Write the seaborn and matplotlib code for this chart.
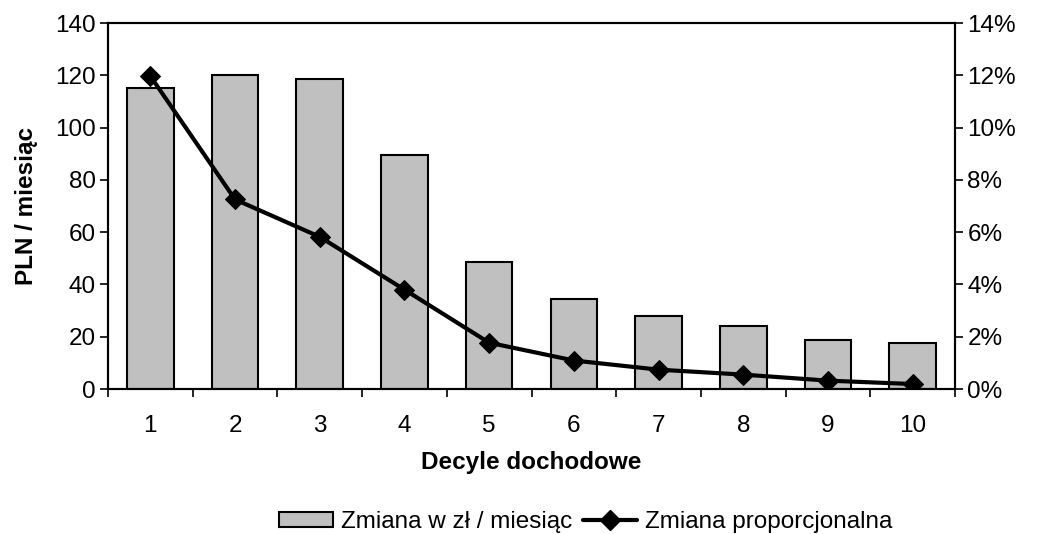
import matplotlib
matplotlib.use("Agg")
import matplotlib.pyplot as plt
import seaborn as sns
import pandas as pd
import numpy as np
from matplotlib.ticker import FuncFormatter, FixedLocator
from matplotlib.patches import Patch
from matplotlib.lines import Line2D

deciles = ["1", "2", "3", "4", "5", "6", "7", "8", "9", "10"]
zmiana_zl = [115, 120.2, 118.7, 89.5, 48.7, 34.3, 27.8, 24.1, 18.6, 17.7]
zmiana_proc = [0.1197, 0.0725, 0.0582, 0.038, 0.0177, 0.0109, 0.0074, 0.0055, 0.0032, 0.0019]

sns.set_style("white")
plt.rcParams["font.family"] = ["Liberation Sans", "DejaVu Sans"]
for k in ["text.color", "axes.labelcolor", "xtick.color", "ytick.color"]:
    plt.rcParams[k] = "black"

FS = 17.5

df = pd.DataFrame({"decyl": deciles, "zl": zmiana_zl, "proc": zmiana_proc})

fig = plt.figure(figsize=(10.52, 5.34), dpi=100)
ax = fig.add_axes([108/1052, 1 - 389/534, (955-108)/1052, (389-23)/534])

sns.barplot(data=df, x="decyl", y="zl", ax=ax, color="#c0c0c0", width=0.55,
            edgecolor="black", linewidth=1.5, saturation=1)
ax.set_ylim(0, 140)
ax.set_xlim(-0.5, 9.5)
ax.set_yticks(np.arange(0, 141, 20))
ax.set_ylabel("PLN / miesiąc", fontsize=FS, fontweight="bold", labelpad=12)
ax.set_xlabel("Decyle dochodowe", fontsize=FS, fontweight="bold", labelpad=10)
ax.tick_params(axis="y", labelsize=FS, length=6, width=1.2, direction="out", left=True, pad=3)
ax.tick_params(axis="x", which="major", labelsize=FS, length=0, pad=19)
ax.xaxis.set_minor_locator(FixedLocator(np.arange(-0.5, 10, 1)))
ax.tick_params(axis="x", which="minor", length=6, width=1.2, direction="out", bottom=True)
for s in ax.spines.values():
    s.set_color("black")
    s.set_linewidth(1.5)

ax2 = ax.twinx()
sns.lineplot(data=df, x="decyl", y="proc", ax=ax2, color="black", linewidth=3,
             marker="D", markersize=10, markeredgecolor="black", sort=False)
ax2.set_ylim(0, 0.14)
ax2.set_yticks(np.arange(0, 0.141, 0.02))
ax2.yaxis.set_major_formatter(FuncFormatter(lambda v, p: f"{v*100:.0f}%"))
ax2.set_ylabel("")
ax2.tick_params(axis="y", labelsize=FS, length=6, width=1.2, direction="out", right=True, pad=3)
for s in ax2.spines.values():
    s.set_color("black")
    s.set_linewidth(1.5)

handles = [Patch(facecolor="#c0c0c0", edgecolor="black", linewidth=1.5),
           Line2D([0], [0], color="black", linewidth=3, marker="D", markersize=10)]
fig.legend(handles, ["Zmiana w zł / miesiąc", "Zmiana proporcjonalna"],
           loc="center", bbox_to_anchor=(586/1052, 1 - 522/534), ncol=2, frameon=False,
           fontsize=FS, handlelength=2.2, handleheight=0.6, columnspacing=0.45,
           handletextpad=0.35, borderaxespad=0, borderpad=0)

fig.savefig("out.png", dpi=100)
